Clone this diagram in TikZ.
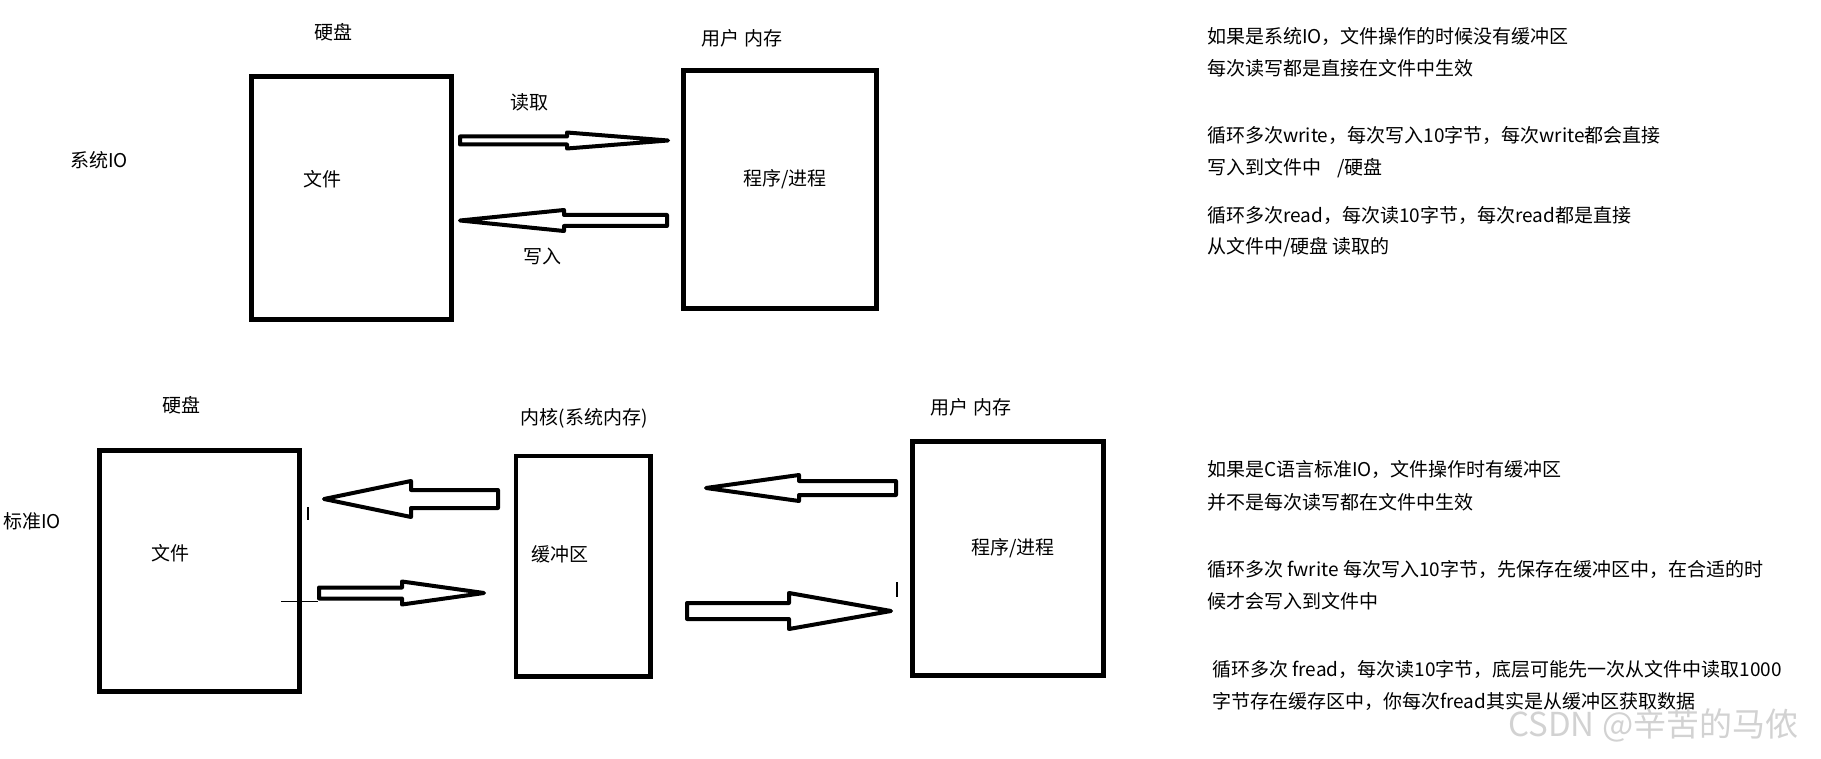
\documentclass[tikz,border=0pt]{standalone}
\usepackage{fontspec}
\setmainfont{Noto Sans CJK SC}
\usetikzlibrary{calc}

\tikzset{
	hollow/.style n args={3}{line width=4pt,line join=round,
		to path={let \p1=(\tikztostart), \p2=(\tikztotarget),
			\p3=($(\tikztotarget)!#3!(\tikztostart)$) in
			(\x1,\y1+#1) -- (\x3,\y3+#1) -- (\x3,\y3+#2) -- (\x2,\y2)
			-- (\x3,\y3-#2) -- (\x3,\y3-#1) -- (\x1,\y1-#1) -- cycle}}
}

\begin{document}
\begin{tikzpicture}[x=1pt,y=-1pt,font=\fontsize{19pt}{23pt}\selectfont]
		\tikzstyle{box}=[draw,line width=4.5pt,inner sep=0pt]
		\tikzstyle{note}=[anchor=west,inner sep=0pt]
		\useasboundingbox (0,0) rectangle (1821,759);

		% system IO
		\node (hd1) at (333,32) {硬盘};
		\node (um1) at (742,38) {用户 内存};
		\node (sysio) at (99,160) {系统IO};
		\node[box,minimum width=200pt,minimum height=243pt] (file1) at (351.5,198) {};
		\node (f1) at (322,179) {文件};
		\node[box,minimum width=193pt,minimum height=238pt] (proc1) at (780,189.5) {};
		\node (p1) at (785,179) {程序/进程};
		\node (rdl) at (529,102) {读取};
		\node (wrl) at (542,256) {写入};

		\coordinate (rd0) at (460,140.5);
		\coordinate (rd1) at (668,140.5);
		\coordinate (wr0) at (667,220.5);
		\coordinate (wr1) at (460,220.5);
		\draw[hollow={4pt}{8pt}{101pt}] (rd0) to (rd1);
		\draw[hollow={5.5pt}{10.5pt}{104pt}] (wr0) to (wr1);

		% standard IO
		\node (hd2) at (181,405) {硬盘};
		\node (kern) at (584,418) {内核(系统内存)};
		\node (um2) at (971,407) {用户 内存};
		\node (stdio) at (32,521) {标准IO};
		\node[box,minimum width=200pt,minimum height=241pt] (file2) at (199.5,571) {};
		\node (f2) at (170,553) {文件};
		\node[box,minimum width=134.5pt,minimum height=220.5pt] (buf) at (583,566) {};
		\node (b1) at (560,554) {缓冲区};
		\node[box,minimum width=191pt,minimum height=234pt] (proc2) at (1008,558.5) {};
		\node (p2) at (1013,548) {程序/进程};

		\coordinate (bf0) at (498,499);
		\coordinate (bf1) at (324,499);
		\coordinate (fb0) at (319,593);
		\coordinate (fb1) at (484,593);
		\coordinate (pb0) at (896,488);
		\coordinate (pb1) at (706,488);
		\coordinate (bp0) at (687,611);
		\coordinate (bp1) at (891,611);
		\draw[hollow={9pt}{18pt}{87pt}] (bf0) to (bf1);
		\draw[hollow={5.5pt}{11.5pt}{82pt}] (fb0) to (fb1);
		\draw[hollow={7pt}{13pt}{93pt}] (pb0) to (pb1);
		\draw[hollow={8pt}{18pt}{102pt}] (bp0) to (bp1);

		% stray marks
		\draw[line width=1pt] (281,601) -- (318,601);
		\draw[line width=1.5pt] (308,507) -- (308,520);
		\draw[line width=1.5pt] (897,582) -- (897,597);

		% notes
		\node[note] (s1) at (1207,36) {如果是系统IO，文件操作的时候没有缓冲区};
		\node[note] (s2) at (1207,68) {每次读写都是直接在文件中生效};
		\node[note] (s3) at (1207,135) {循环多次write，每次写入10字节，每次write都会直接};
		\node[note] (s4) at (1207,168) {写入到文件中\hspace{16pt}/硬盘};
		\node[note] (s5) at (1207,215) {循环多次read，每次读10字节，每次read都是直接};
		\node[note] (s6) at (1207,247) {从文件中/硬盘 读取的};
		\node[note] (c1) at (1207,469) {如果是C语言标准IO，文件操作时有缓冲区};
		\node[note] (c2) at (1207,502) {并不是每次读写都在文件中生效};
		\node[note] (c3) at (1207,569) {循环多次 fwrite 每次写入10字节，先保存在缓冲区中，在合适的时};
		\node[note] (c4) at (1207,601) {候才会写入到文件中};
		\node[note] (c5) at (1212,669) {循环多次 fread，每次读10字节，底层可能先一次从文件中读取1000};
		\node[note] (c6) at (1212,701) {字节存在缓存区中，你每次fread其实是从缓冲区获取数据};
		\node[note,font=\fontsize{33pt}{38pt}\selectfont,text=gray!35] (wm) at (1508,725) {CSDN @辛苦的马侬};
	\end{tikzpicture}
\end{document}
